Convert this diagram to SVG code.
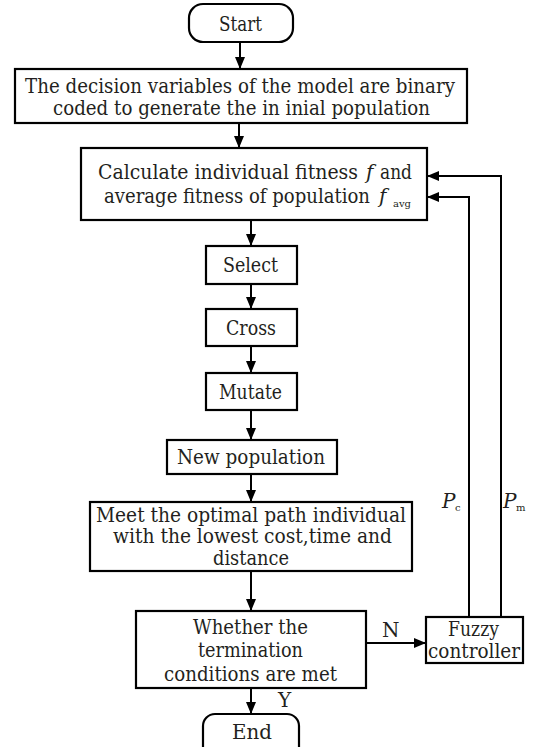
<svg xmlns="http://www.w3.org/2000/svg" width="534" height="747" viewBox="0 0 534 747">
<style>
.b{fill:#fff;stroke:#000;stroke-width:2.2}
.t{font-family:"DejaVu Serif","Liberation Serif",serif;font-size:20px;fill:#231f20}
.i{font-style:italic}
.s{font-size:10px}
.l{fill:none;stroke:#000;stroke-width:2}
</style>
<defs>
<marker id="a" markerWidth="12" markerHeight="10" refX="11" refY="5" orient="auto" markerUnits="userSpaceOnUse">
<path d="M0,0 L12,5 L0,10 Z" fill="#000"/>
</marker>
</defs>
<g id="start">
<rect class="b" x="189" y="4" width="104" height="38" rx="14" ry="14"/>
<text class="t" x="219" y="31" textLength="43" lengthAdjust="spacingAndGlyphs">Start</text>
</g>
<g id="init">
<rect class="b" x="15" y="69" width="452" height="54"/>
<text class="t" x="25" y="93" textLength="430" lengthAdjust="spacingAndGlyphs">The decision variables of the model are binary</text>
<text class="t" x="53" y="115" textLength="377" lengthAdjust="spacingAndGlyphs">coded to generate the in inial population</text>
</g>
<g id="fitness">
<rect class="b" x="81" y="148" width="346" height="72"/>
<text class="t" x="98" y="179" textLength="260" lengthAdjust="spacingAndGlyphs">Calculate individual fitness</text>
<text class="t i" x="366" y="179">f</text>
<text class="t" x="380" y="179" textLength="32" lengthAdjust="spacingAndGlyphs">and</text>
<text class="t" x="104" y="203" textLength="266" lengthAdjust="spacingAndGlyphs">average fitness of population</text>
<text class="t i" x="379" y="203">f</text>
<text class="t s" x="393" y="207">avg</text>
</g>
<g id="select">
<rect class="b" x="206" y="246" width="91" height="38"/>
<text class="t" x="223" y="272" textLength="55" lengthAdjust="spacingAndGlyphs">Select</text>
</g>
<g id="cross">
<rect class="b" x="206" y="309" width="91" height="37"/>
<text class="t" x="226" y="335" textLength="50" lengthAdjust="spacingAndGlyphs">Cross</text>
</g>
<g id="mutate">
<rect class="b" x="206" y="373" width="91" height="37"/>
<text class="t" x="219" y="399" textLength="63" lengthAdjust="spacingAndGlyphs">Mutate</text>
</g>
<g id="newpop">
<rect class="b" x="167" y="440" width="170" height="34"/>
<text class="t" x="177" y="464" textLength="148" lengthAdjust="spacingAndGlyphs">New population</text>
</g>
<g id="meet">
<rect class="b" x="90" y="502" width="322" height="69"/>
<text class="t" x="96" y="522" textLength="310" lengthAdjust="spacingAndGlyphs">Meet the optimal path individual</text>
<text class="t" x="113" y="543" textLength="279" lengthAdjust="spacingAndGlyphs">with the lowest cost,time and</text>
<text class="t" x="213" y="565" textLength="76" lengthAdjust="spacingAndGlyphs">distance</text>
</g>
<g id="decision">
<rect class="b" x="136" y="611" width="230" height="77"/>
<text class="t" x="193" y="634" textLength="115" lengthAdjust="spacingAndGlyphs">Whether the</text>
<text class="t" x="198" y="657" textLength="105" lengthAdjust="spacingAndGlyphs">termination</text>
<text class="t" x="164" y="681" textLength="173" lengthAdjust="spacingAndGlyphs">conditions are met</text>
</g>
<g id="fuzzy">
<rect class="b" x="426" y="617" width="97" height="46"/>
<text class="t" x="448" y="636" textLength="51" lengthAdjust="spacingAndGlyphs">Fuzzy</text>
<text class="t" x="428" y="658" textLength="92" lengthAdjust="spacingAndGlyphs">controller</text>
</g>
<g id="end">
<rect class="b" x="203" y="714" width="96" height="48" rx="12" ry="12"/>
<text class="t" x="232" y="739" textLength="40" lengthAdjust="spacingAndGlyphs">End</text>
</g>
<g id="connectors">
<path class="l" d="M240,42 V68" marker-end="url(#a)"/>
<path class="l" d="M239,123 V147" marker-end="url(#a)"/>
<path class="l" d="M251,220 V245" marker-end="url(#a)"/>
<path class="l" d="M251,284 V308" marker-end="url(#a)"/>
<path class="l" d="M251,346 V372" marker-end="url(#a)"/>
<path class="l" d="M251,410 V439" marker-end="url(#a)"/>
<path class="l" d="M251,474 V501" marker-end="url(#a)"/>
<path class="l" d="M251,571 V610" marker-end="url(#a)"/>
<path class="l" d="M251,688 V713" marker-end="url(#a)"/>
<path class="l" d="M366,643 H425" marker-end="url(#a)"/>
<path class="l" d="M469,617 V197 H428" marker-end="url(#a)"/>
<path class="l" d="M501,617 V176 H428" marker-end="url(#a)"/>
<text class="t" x="382" y="637">N</text>
<text class="t" x="278" y="707">Y</text>
<text class="t i" x="442" y="508">P</text>
<text class="t s" x="455" y="511">c</text>
<text class="t i" x="503" y="508">P</text>
<text class="t s" x="516" y="511">m</text>
</g>
</svg>
